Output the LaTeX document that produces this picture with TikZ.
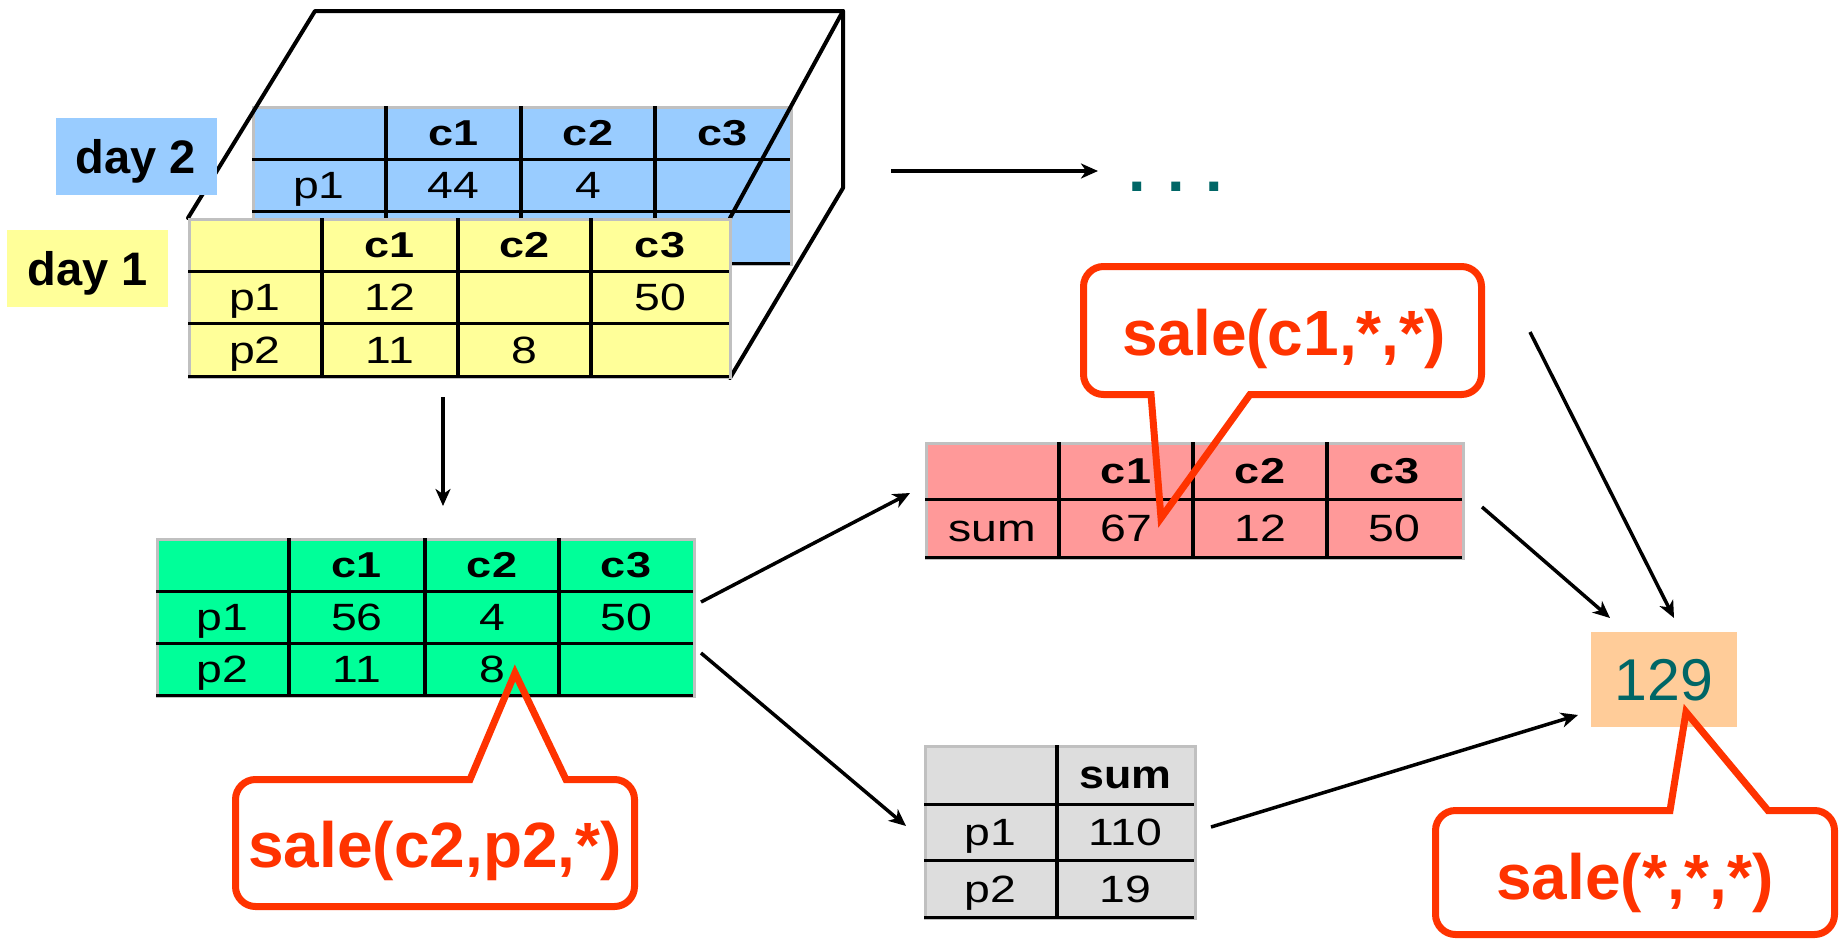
\documentclass[tikz,border=0pt]{standalone}
\usepackage{fontspec}
\setmainfont{Liberation Sans}
\usepackage{graphicx}
\usetikzlibrary{arrows.meta}
\definecolor{cblue}{HTML}{99CCFF}
\definecolor{cyellow}{HTML}{FFFF99}
\definecolor{cgreen}{HTML}{00FF99}
\definecolor{cpink}{HTML}{FF9999}
\definecolor{cgray}{HTML}{DDDDDD}
\definecolor{cpeach}{HTML}{FFCC99}
\definecolor{cteal}{HTML}{006666}
\definecolor{cred}{HTML}{FF3300}
\definecolor{cborder}{HTML}{C0C0C0}
\newcommand\fs[1]{\fontsize{#1}{#1}\selectfont}
\newcommand\bdy[1]{\scalebox{1.22}[1]{#1}}
\newcommand\hdr[1]{\scalebox{1.25}[1]{#1}}
\newcommand\tablegrid[6]{%
  \foreach \yy in {#5,#4} \draw[hline] (#1,\yy) -- (#2,\yy);
  \foreach \xx in {#6} \draw[vline] (\xx,#3) -- (\xx,#4);}
% #1 left x, #2 far-side y, #3 right x, #4 pointer-side y,
% #5/#6 pointer base x, #7/#8 tip, #9 = 1 if pointer below box, -1 if above
\newcommand\callout[9]{%
  \draw[callout] (#5,#4) -- (#7,#8) -- (#6,#4) -- ({#3-20},#4)
    .. controls ({#3-9},#4) and (#3,{#4-9*#9}) .. (#3,{#4-20*#9}) -- (#3,{#2+20*#9})
    .. controls (#3,{#2+9*#9}) and ({#3-9},#2) .. ({#3-20},#2) -- ({#1+20},#2)
    .. controls ({#1+9},#2) and (#1,{#2+9*#9}) .. (#1,{#2+20*#9}) -- (#1,{#4-20*#9})
    .. controls (#1,{#4-9*#9}) and ({#1+9},#4) .. ({#1+20},#4) -- cycle;}
\tikzset{
  tbox/.style={draw=cborder, line width=2.5pt, inner sep=0pt, anchor=north west},
  hline/.style={line width=3pt, black},
  vline/.style={line width=3.5pt, black},
  cell/.style={inner sep=0pt, text height=27.2pt, text depth=0pt, font=\fs{38}},
  hcell/.style={inner sep=0pt, text height=25.8pt, text depth=0pt, font=\fs{36}\bfseries},
  daylabel/.style={inner sep=0pt, minimum width=161pt, minimum height=77pt,
    text height=34pt, text depth=0pt, font=\fs{47}\bfseries},
  cube/.style={line width=4pt, black, line join=round, line cap=round},
  arr/.style={line width=3.5pt, black, -{Stealth[length=17pt, width=15pt, inset=5pt]}},
  callout/.style={draw=cred, line width=7pt, line join=miter, miter limit=10},
  calltext/.style={inner sep=0pt, text height=46pt, text depth=0pt, font=\fs{64}\bfseries, text=cred}
}
\begin{document}
\begin{tikzpicture}[x=1pt,y=-1pt]
\useasboundingbox (0,0) rectangle (1841,940);
% ---------- day 2 (blue) table ----------
\node[tbox, fill=cblue, minimum width=538pt, minimum height=157pt] (blue) at (252,106) {};
\tablegrid{252}{790}{106}{263}{159,211}{386,521,655}
\node[hcell] (b01) at (453.5,132.5) {\hdr{c1}};
\node[hcell] (b02) at (588,132.5) {\hdr{c2}};
\node[hcell] (b03) at (722.5,132.5) {\hdr{c3}};
\node[cell] (b10) at (319,185) {\bdy{p1}};
\node[cell] (b11) at (453.5,185) {\bdy{44}};
\node[cell] (b12) at (588,185) {\bdy{4}};
% ---------- cube edges ----------
\draw[cube] (188,218) -- (315,11) -- (843,11) -- (843,188) -- (730,378);
\draw[cube] (843,11) -- (730,218);
% ---------- day 1 (yellow) table ----------
\node[tbox, fill=cyellow, minimum width=541pt, minimum height=158pt] (yellow) at (188,218) {};
\tablegrid{188}{729}{218}{376}{271,323}{322,458,591}
\node[hcell] (y01) at (390,244.5) {\hdr{c1}};
\node[hcell] (y02) at (524.5,244.5) {\hdr{c2}};
\node[hcell] (y03) at (660,244.5) {\hdr{c3}};
\node[cell] (y10) at (255,297) {\bdy{p1}};
\node[cell] (y11) at (390,297) {\bdy{12}};
\node[cell] (y13) at (660,297) {\bdy{50}};
\node[cell] (y20) at (255,349.5) {\bdy{p2}};
\node[cell] (y21) at (390,349.5) {\bdy{11}};
\node[cell] (y22) at (524.5,349.5) {\bdy{8}};
% ---------- day labels ----------
\node[daylabel, fill=cblue] (day2) at (136,156.5) {day 2};
\node[daylabel, fill=cyellow] (day1) at (87.5,268.5) {day 1};
% ---------- dots ----------
\node[inner sep=0pt, anchor=base, font=\fs{63}\bfseries, text=cteal] (dots) at (1176,191) {.\,\,.\,\,.};
% ---------- green table ----------
\node[tbox, fill=cgreen, minimum width=537pt, minimum height=157pt] (green) at (156,538) {};
\tablegrid{156}{693}{538}{695}{591,643}{289,425,559}
\node[hcell] (g01) at (357,564.5) {\hdr{c1}};
\node[hcell] (g02) at (492,564.5) {\hdr{c2}};
\node[hcell] (g03) at (626,564.5) {\hdr{c3}};
\node[cell] (g10) at (222.5,617) {\bdy{p1}};
\node[cell] (g11) at (357,617) {\bdy{56}};
\node[cell] (g12) at (492,617) {\bdy{4}};
\node[cell] (g13) at (626,617) {\bdy{50}};
\node[cell] (g20) at (222.5,669) {\bdy{p2}};
\node[cell] (g21) at (357,669) {\bdy{11}};
\node[cell] (g22) at (492,669) {\bdy{8}};
% ---------- pink table ----------
\node[tbox, fill=cpink, minimum width=537pt, minimum height=115pt] (pink) at (925,442) {};
\tablegrid{925}{1462}{442}{557}{499}{1059,1193,1327}
\node[hcell] (k01) at (1126,470.5) {\hdr{c1}};
\node[hcell] (k02) at (1260,470.5) {\hdr{c2}};
\node[hcell] (k03) at (1394.5,470.5) {\hdr{c3}};
\node[cell] (k10) at (992,528) {\bdy{sum}};
\node[cell] (k11) at (1126,528) {\bdy{67}};
\node[cell] (k12) at (1260,528) {\bdy{12}};
\node[cell] (k13) at (1394.5,528) {\bdy{50}};
% ---------- gray table ----------
\node[tbox, fill=cgray, minimum width=270pt, minimum height=172pt] (gray) at (924,745) {};
\tablegrid{924}{1194}{745}{917}{804,860}{1057}
\node[hcell, font=\fs{40}\bfseries, text height=28.6pt] (s01) at (1125.5,774.5) {\scalebox{1.12}[1]{sum}};
\node[cell] (s10) at (990.5,832) {\bdy{p1}};
\node[cell] (s11) at (1125.5,832) {\bdy{110}};
\node[cell] (s20) at (990.5,888.5) {\bdy{p2}};
\node[cell] (s21) at (1125.5,888.5) {\bdy{19}};
% ---------- total ----------
\node[fill=cpeach, minimum width=146pt, minimum height=95pt, inner sep=0pt,
      text height=42.2pt, text depth=0pt, font=\fs{59}, text=cteal] (total) at (1664,679.5) {129};
% ---------- connector end points ----------
\coordinate (cubeOut) at (891,171);
\coordinate (dotsIn) at (1098,171);
\coordinate (cubeDown) at (443,397);
\coordinate (greenIn) at (443,506);
\coordinate (greenOutA) at (701,602);
\coordinate (pinkIn) at (910,493);
\coordinate (greenOutB) at (701,653);
\coordinate (grayIn) at (906,826);
\coordinate (pinkOut) at (1482,507);
\coordinate (totalInA) at (1610,618);
\coordinate (moreOut) at (1530,332);
\coordinate (totalInB) at (1674,618);
\coordinate (grayOut) at (1211,827);
\coordinate (totalInC) at (1578,715);
% ---------- arrows ----------
\draw[arr] (cubeOut) -- (dotsIn);
\draw[arr] (cubeDown) -- (greenIn);
\draw[arr] (greenOutA) -- (pinkIn);
\draw[arr] (greenOutB) -- (grayIn);
\draw[arr] (pinkOut) -- (totalInA);
\draw[arr] (moreOut) -- (totalInB);
\draw[arr] (grayOut) -- (totalInC);
% ---------- callouts ----------
\callout{1083.5}{266.5}{1481.5}{394.5}{1151}{1250}{1161}{518}{1}
\node[calltext] (call1) at (1284,332) {sale(c1,*,*)};
\callout{235.5}{906.5}{634.5}{779.5}{470}{566}{515}{673}{-1}
\node[calltext] (call2) at (435,844) {sale(c2,p2,*)};
\callout{1435.5}{934.5}{1834.5}{810.5}{1670}{1768}{1686}{712}{-1}
\node[calltext] (call3) at (1635,876.5) {sale(*,*,*)};
\end{tikzpicture}
\end{document}
